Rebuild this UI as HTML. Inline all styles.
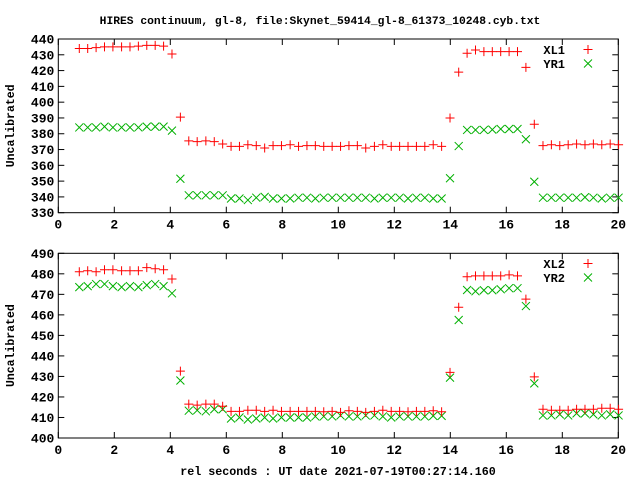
<!DOCTYPE html>
<html><head><meta charset="utf-8"><style>
html,body{margin:0;padding:0;background:#fff;}
svg{display:block;font-family:"Liberation Mono",monospace;font-weight:bold;}
</style></head><body>
<svg id="chart" width="640" height="480" viewBox="0 0 640 480">
<rect width="640" height="480" fill="#fff"/>
<text x="320" y="24" text-anchor="middle" font-size="11.3">HIRES continuum, gl-8, file:Skynet_59414_gl-8_61373_10248.cyb.txt</text>
<text x="338" y="475" text-anchor="middle" font-size="11.7">rel seconds : UT date 2021-07-19T00:27:14.160</text>
<g id="g1"></g>
<g id="g2"></g>
</svg>
<script>
const times=[0.75,1.05,1.35,1.65,1.95,2.26,2.56,2.86,3.16,3.46,3.76,4.06,4.36,4.66,4.96,5.27,5.57,5.87,6.17,6.47,6.77,7.07,7.37,7.67,7.97,8.28,8.58,8.88,9.18,9.48,9.78,10.08,10.38,10.68,10.98,11.29,11.59,11.89,12.19,12.49,12.79,13.09,13.39,13.69,13.99,14.30,14.60,14.90,15.20,15.50,15.80,16.10,16.40,16.70,17.00,17.31,17.61,17.91,18.21,18.51,18.81,19.11,19.41,19.71,20.01];
const xl1=[434,434,434.5,435,435,435,435,435.5,436,436,435.5,430.5,390.5,375.5,375,375.5,375,373.5,372,372,373,372.5,371,372.5,372.5,373,372,372.5,372.5,372,372,372,372.5,372.5,371,372,373,372,372,372,372,372,373,372,390,419,431,433,432,432,432,432,432,422,386,372.5,373,372.5,373,373.5,373,373.5,373,373.5,373];
const yr1=[384,384,384,384.5,384,384,384,384,384.5,384.5,384.5,382,351.5,341,341,341,341,341,339,339,338,339.5,340,339,339,339,339.5,339.5,339,339.5,339.5,339.5,339.5,339.5,339.5,339,339.5,339.5,339.5,339,339.5,339.5,339,339,351.8,372.2,382.4,382.4,382.4,382.6,383,383,383,376.5,349.6,339.5,339.5,339.5,339.5,339.5,339.8,339.5,339,339.5,339.5];
const xl2=[481,481.5,481,482,482,481.5,481.5,481.5,483,482.5,482,477.5,432.6,416.5,416,416.5,416.5,415.5,413,413,413.5,413.5,413,413.5,413,413,413,413,413,412.8,413,412.5,413.3,413,412.5,413,413.5,413,413,412.8,413,413,413.3,412.8,432,463.7,478.6,479,479,479,479,479.5,479,467.7,429.8,414,413.5,413.5,413.5,414,414,414,414.5,414.5,414];
const yr2=[473.5,474,475,475,474,473.5,474,473.5,474.5,475,474,470.5,428,413.3,413.5,413,414,414,409.5,410,409,409.5,410,409.5,410,410,410,410,410.5,410.5,410.5,411,410.5,410.5,411,411,410.5,410,410.5,410.5,410.5,410.5,410.8,410.8,429.4,457.5,472.1,471.5,472,472,472.5,473,473,464.3,426.6,411,411,411.5,411,412,412,411.5,411,411.5,411];
const xTicks=[0,2,4,6,8,10,12,14,16,18,20];
const yTicks1=[330,340,350,360,370,380,390,400,410,420,430,440];
const yTicks2=[400,410,420,430,440,450,460,470,480,490];

const NS="http://www.w3.org/2000/svg";
function mk(parent,tag,attrs){const e=document.createElementNS(NS,tag);for(const k in attrs)e.setAttribute(k,attrs[k]);parent.appendChild(e);return e;}
const L=58.3,R=618.3;
function xs(v){return L+(v-0)/(20-0)*(R-L);}
function panel(g,top,bot,ymin,ymax,yTicks,sA,sB,nA,nB,ly){
  const ys=v=>bot-(v-ymin)/(ymax-ymin)*(bot-top);
  const fr=mk(g,'rect',{x:L,y:top,width:R-L,height:bot-top,fill:'none',stroke:'#000','stroke-width':1});
  
  
  xTicks.forEach(t=>{
    const x=xs(t);
    mk(g,'line',{x1:x,y1:bot,x2:x,y2:bot-6,stroke:'#000'});
    mk(g,'line',{x1:x,y1:top,x2:x,y2:top+6,stroke:'#000'});
    const tx=mk(g,'text',{x:x,y:bot+16,'text-anchor':'middle','font-size':13});
    tx.textContent=t;
    
    
  });
  yTicks.forEach(t=>{
    const y=ys(t);
    mk(g,'line',{x1:L,y1:y,x2:L+6,y2:y,stroke:'#000'});
    mk(g,'line',{x1:R,y1:y,x2:R-6,y2:y,stroke:'#000'});
    const tx=mk(g,'text',{x:L-4,y:y+4.5,'text-anchor':'end','font-size':13});
    tx.textContent=t;
    
    
  });
  const yl=mk(g,'text',{x:0,y:0,'text-anchor':'middle','font-size':11.5,transform:`translate(14,${(top+bot)/2}) rotate(-90)`});
  yl.textContent='Uncalibrated';
  
  
  function plus(x,y,name){const p=mk(g,'path',{d:`M${x-4.5},${y}h9M${x},${y-4.5}v9`,stroke:'#ff0000','stroke-width':1,fill:'none'});}
  function cross(x,y,name){const p=mk(g,'path',{d:`M${x-4},${y-4}l8,8M${x-4},${y+4}l8,-8`,stroke:'#00b000','stroke-width':1,fill:'none'});}
  sB.forEach((v,i)=>cross(xs(times[i]),ys(v),'point-'+nB.toLowerCase()));
  sA.forEach((v,i)=>plus(xs(times[i]),ys(v),'point-'+nA.toLowerCase()));
  const t1=mk(g,'text',{x:565,y:ly+4.5,'text-anchor':'end','font-size':12});t1.textContent=nA;
  
  
  plus(588,ly,'legend-marker');
  const t2=mk(g,'text',{x:565,y:ly+18.5,'text-anchor':'end','font-size':12});t2.textContent=nB;
  
  
  cross(588,ly+14,'legend-marker');
}
panel(document.getElementById('g1'),39,212.7,330,440,yTicks1,xl1,yr1,'XL1','YR1',49.5);
panel(document.getElementById('g2'),253.3,438,400,490,yTicks2,xl2,yr2,'XL2','YR2',263.5);
</script>
</body></html>
